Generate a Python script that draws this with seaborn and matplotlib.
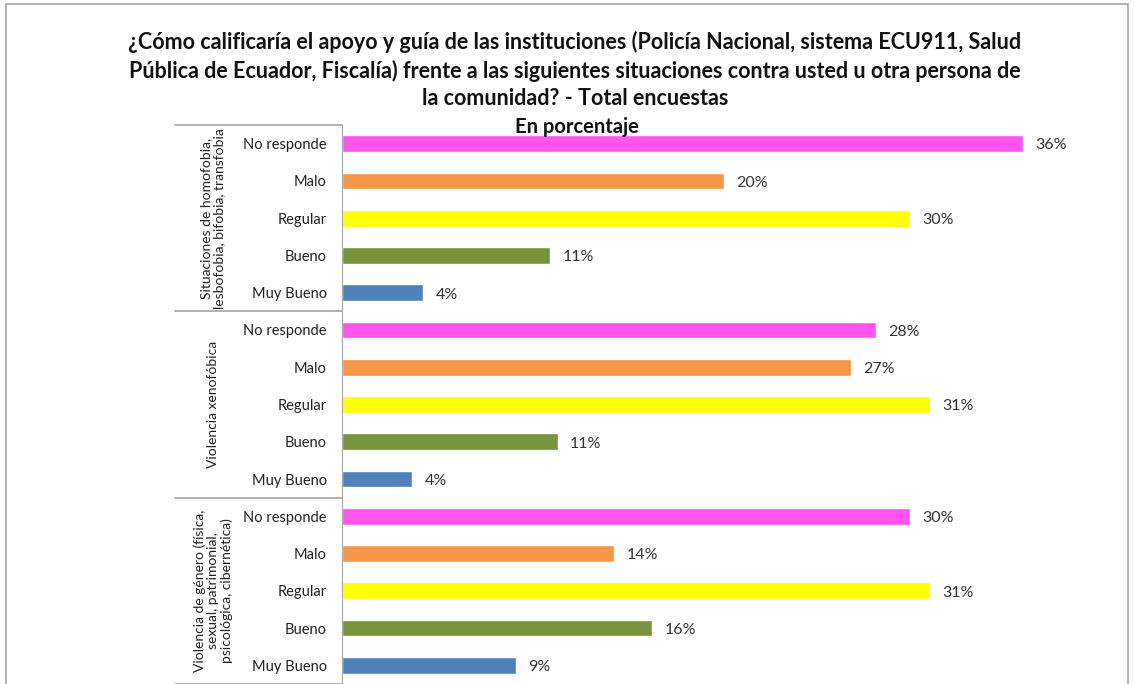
import pandas as pd
import seaborn as sns
import matplotlib.pyplot as plt
from matplotlib.patches import Rectangle

# data
grupos = ["Situaciones de homofobia,\nlesbofobia, bifobia, transfobia",
          "Violencia xenofóbica",
          "Violencia de género (física,\nsexual, patrimonial,\npsicológica, cibernética)"]
calificaciones = ["No responde", "Malo", "Regular", "Bueno", "Muy Bueno"]
homofobia = [36.0, 20.2, 30.0, 11.0, 4.3]
xenofobia = [28.2, 26.9, 31.1, 11.4, 3.7]
genero = [30.0, 14.4, 31.1, 16.4, 9.2]
colores = ["#FF55EE", "#F79646", "#FFFF00", "#77933C", "#4F81BD"]

filas = []
for g, vals in zip(grupos, [homofobia, xenofobia, genero]):
    for c, v in zip(calificaciones, vals):
        filas.append({"grupo": g, "calif": c, "valor": v, "fila": g + "|" + c})
df = pd.DataFrame(filas)

sns.set_style("white")
plt.rcParams["font.family"] = ["Lato", "DejaVu Sans"]

fig = plt.figure(figsize=(11.34, 6.84), dpi=100)
W, H = 1134, 684
ax = fig.add_axes([342 / W, 0, 758 / W, 559 / H])

sns.barplot(data=df, x="valor", y="fila", hue="calif", palette=colores,
            hue_order=calificaciones, dodge=False, orient="h", width=0.45,
            saturation=1, legend=False, ax=ax)

ax.set_xlim(0, 758 / 18.92)
ax.set_ylim(len(df) - 0.5, -0.5)
ax.set_xticks([])
ax.set_yticks(range(len(df)))
ax.set_yticklabels(df["calif"], fontsize=10.5, color="#222222")
ax.tick_params(axis="y", length=0, pad=11)
ax.set_xlabel("")
ax.set_ylabel("")
for s in ["top", "right", "bottom"]:
    ax.spines[s].set_visible(False)
ax.spines["left"].set_color("#A6A6A6")

for i, v in enumerate(df["valor"]):
    ax.text(v + 0.65, i + 0.05, f"{v:.0f}%", va="center", ha="left",
            fontsize=11.5, color="#333333")

# group brackets and labels
trans = ax.get_yaxis_transform()
xl = (175 - 342) / 758
for k in range(len(grupos) + 1):
    yb = k * 5 - 0.5
    ax.plot([xl, 0], [yb, yb], transform=trans, color="#A6A6A6",
            lw=1.2, clip_on=False)
for k, g in enumerate(grupos):
    ax.text((213 - 342) / 758, k * 5 + 2, g, transform=trans, rotation=90,
            ha="center", va="center", fontsize=10, color="#222222",
            linespacing=1.1, multialignment="center")

titulo = ("¿Cómo calificaría el apoyo y guía de las instituciones (Policía Nacional, sistema ECU911, Salud\n"
          "Pública de Ecuador, Fiscalía) frente a las siguientes situaciones contra usted u otra persona de\n"
          "la comunidad? - Total encuestas")
fig.text(575 / W, 1 - 31 / H, titulo, ha="center", va="top", fontsize=15.5,
         fontweight="bold", linespacing=1.38, color="#111111")
fig.text(577 / W, 1 - 127 / H, "En porcentaje", ha="center", va="center",
         fontsize=14.5, fontweight="bold", color="#111111")

fig.patches.append(Rectangle((6 / W, -0.01), 1122 / W, 1 - 4 / H + 0.01,
                             transform=fig.transFigure, fill=False,
                             edgecolor="#A6A6A6", lw=1.2))

fig.savefig("out.png", dpi=100)
